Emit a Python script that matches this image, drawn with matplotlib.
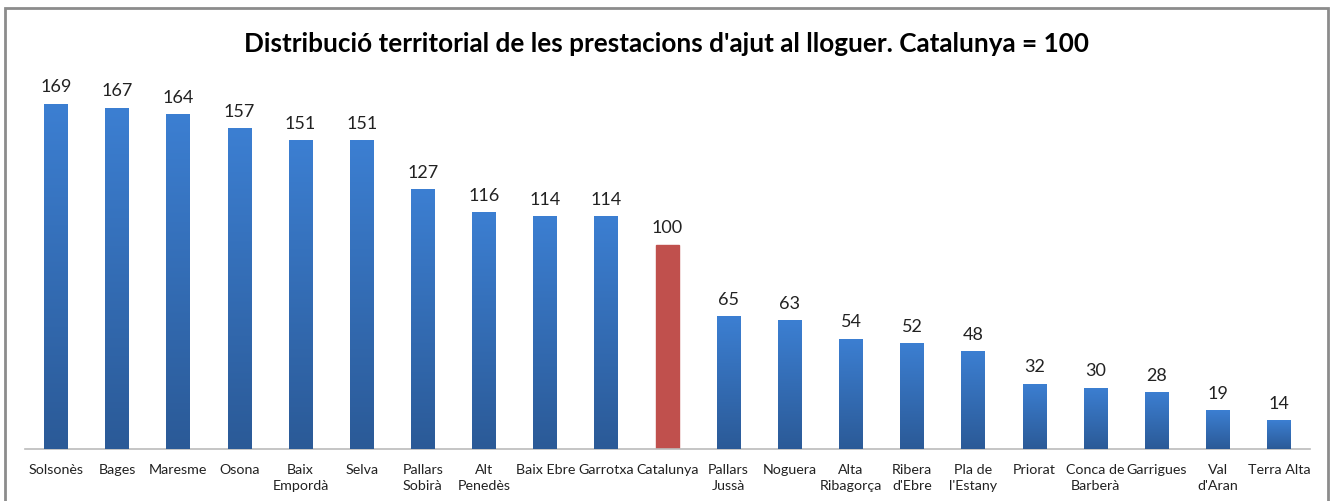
import numpy as np
import matplotlib
matplotlib.use('Agg')
import matplotlib.pyplot as plt
from matplotlib.patches import Rectangle

# Dades
comarques = ['Solsonès', 'Bages', 'Maresme', 'Osona', 'Baix\nEmpordà', 'Selva',
             'Pallars\nSobirà', 'Alt\nPenedès', 'Baix Ebre', 'Garrotxa', 'Catalunya',
             'Pallars\nJussà', 'Noguera', 'Alta\nRibagorça', 'Ribera\nd\'Ebre',
             'Pla de\nl\'Estany', 'Priorat', 'Conca de\nBarberà', 'Garrigues',
             'Val\nd\'Aran', 'Terra Alta']
valors = [169, 167, 164, 157, 151, 151, 127, 116, 114, 114, 100,
          65, 63, 54, 52, 48, 32, 30, 28, 19, 14]

plt.rcParams['font.family'] = ['Lato', 'DejaVu Sans']

fig = plt.figure(figsize=(13.32, 5.02), dpi=100)
ax = fig.add_axes([0.0191, 0.1036, 0.9641, 0.737])

x = np.arange(len(comarques))
barres = ax.bar(x, valors, width=0.39, color='#3a7bcc', zorder=2)

# degradat blau (clar a dalt, fosc a baix)
grad = np.linspace(0, 1, 256).reshape(-1, 1)
cmap = matplotlib.colors.LinearSegmentedColormap.from_list('blau', ['#2b5a97', '#3c7fd2'])
for i, b in enumerate(barres):
    if comarques[i] == 'Catalunya':
        b.set_color('#c0504d')
        continue
    x0, y0 = b.get_x(), b.get_y()
    im = ax.imshow(grad, cmap=cmap, aspect='auto', origin='lower',
                   extent=(x0, x0 + b.get_width(), y0, y0 + b.get_height()), zorder=3)
    im.set_clip_path(b)

for xi, v in zip(x, valors):
    ax.text(xi, v + 4.5, str(v), ha='center', va='bottom', fontsize=13, color='#222222')

ax.set_xlim(-0.5, len(comarques) - 0.5)
ax.set_ylim(0, 181)
ax.set_xticks(x)
ax.set_xticklabels(comarques, fontsize=10.3, color='#222222', linespacing=1.45)
ax.tick_params(axis='x', length=0, pad=10)
ax.set_yticks([])
for s in ['top', 'right', 'left']:
    ax.spines[s].set_visible(False)
ax.spines['bottom'].set_color('#bbbbbb')
ax.spines['bottom'].set_linewidth(1.2)

fig.text(0.5, 0.912, "Distribució territorial de les prestacions d'ajut al lloguer. Catalunya = 100",
         ha='center', va='center', fontsize=18.8, fontweight='bold', color='black')

# marc gris
fig.patches.append(Rectangle((0.004, -0.02), 0.993, 1.002,
                             transform=fig.transFigure, fill=False,
                             edgecolor='#8c8c8c', linewidth=2))

fig.savefig('out.png', dpi=100)
